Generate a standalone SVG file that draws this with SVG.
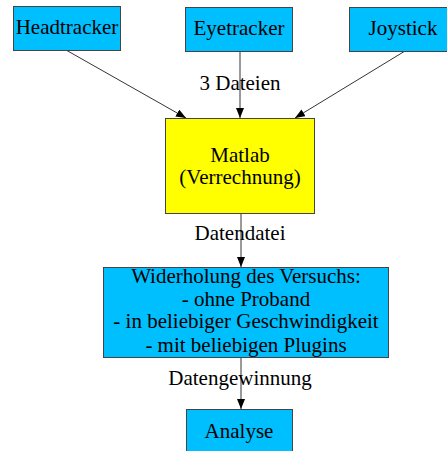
<svg xmlns="http://www.w3.org/2000/svg" width="447" height="451" viewBox="0 0 447 451">
<style>
.box{stroke:#444;stroke-width:1}
.blue{fill:#00bfff}
.yellow{fill:#ffff00}
text{font-family:"Liberation Serif","Times New Roman",Times,serif;font-size:21px;fill:#000;text-anchor:middle}
.edge{stroke:#000;stroke-width:0.8;fill:none;marker-end:url(#arr)}
</style>
<defs>
<marker id="arr" viewBox="0 0 10 8" refX="10" refY="4" markerWidth="10" markerHeight="8" markerUnits="userSpaceOnUse" orient="auto">
<path d="M0,0 L10,4 L0,8 Z" fill="#000"/>
</marker>
</defs>
<g id="connectors">
<line class="edge" x1="66" y1="50" x2="186" y2="118"/>
<line class="edge" x1="240" y1="51" x2="240" y2="118"/>
<line class="edge" x1="405" y1="51" x2="295" y2="118"/>
<line class="edge" x1="241" y1="213" x2="241" y2="267"/>
<line class="edge" x1="241" y1="357" x2="241" y2="409"/>
<text x="240" y="90">3 Dateien</text>
<text x="240" y="240">Datendatei</text>
<text x="240" y="385">Datengewinnung</text>
</g>
<g id="headtracker">
<rect class="box blue" x="13.5" y="6.5" width="107" height="44"/>
<text x="67" y="34">Headtracker</text>
</g>
<g id="eyetracker">
<rect class="box blue" x="185.5" y="7.5" width="107" height="44"/>
<text x="239" y="35">Eyetracker</text>
</g>
<g id="joystick">
<rect class="box blue" x="349.5" y="7.5" width="100" height="44"/>
<text x="403" y="35">Joystick</text>
</g>
<g id="matlab">
<rect class="box yellow" x="165.5" y="118.5" width="149" height="95"/>
<text x="240" y="162">Matlab</text>
<text x="240" y="184">(Verrechnung)</text>
</g>
<g id="widerholung">
<rect class="box blue" x="103.5" y="267.5" width="285" height="90"/>
<text x="246" y="283">Widerholung des Versuchs:</text>
<text x="246" y="306">- ohne Proband</text>
<text x="246" y="328">- in beliebiger Geschwindigkeit</text>
<text x="246" y="352">- mit beliebigen Plugins</text>
</g>
<g id="analyse">
<rect class="box blue" x="186.5" y="409.5" width="106" height="46"/>
<text x="239" y="438">Analyse</text>
</g>
</svg>
